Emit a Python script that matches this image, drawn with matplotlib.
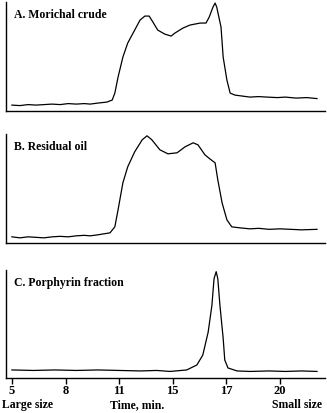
import matplotlib
matplotlib.use('Agg')
import matplotlib.pyplot as plt
import numpy as np

# x positions are in tick-slot units (tick labels are not evenly spaced in time)
tick_pos = [0, 1, 2, 3, 4, 5]
tick_labels = ['5', '8', '11', '15', '17', '20']

# A. Morichal crude
xa = [0.0, 0.15, 0.3, 0.45, 0.6, 0.75, 0.9, 1.05, 1.2, 1.35, 1.46, 1.6, 1.77,
      1.87, 1.92, 1.98, 2.07, 2.16, 2.29, 2.39, 2.48, 2.56, 2.63, 2.72, 2.85,
      2.97, 3.04, 3.19, 3.32, 3.51, 3.62, 3.68, 3.75, 3.79, 3.82, 3.9, 3.94,
      4.01, 4.07, 4.16, 4.3, 4.44, 4.6, 4.76, 4.95, 5.1, 5.3, 5.5, 5.69]
ya = [6, 5.5, 6.5, 6, 6.5, 7, 6.5, 7.5, 7, 7.5, 7, 8, 9, 11, 18, 34, 54, 68,
      81, 91, 95, 95, 89, 81, 77, 75, 78, 83, 86, 88, 88, 94, 104, 108, 104,
      84, 54, 31, 18, 16, 15, 14, 14.5, 14, 13.5, 14, 13, 13.5, 12.5]

# B. Residual oil
xb = [0.0, 0.15, 0.3, 0.45, 0.6, 0.75, 0.9, 1.05, 1.2, 1.35, 1.46, 1.6, 1.83,
      1.92, 1.98, 2.07, 2.16, 2.29, 2.43, 2.52, 2.61, 2.76, 2.91, 3.08, 3.23,
      3.38, 3.47, 3.6, 3.69, 3.79, 3.84, 3.92, 4.01, 4.1, 4.25, 4.44, 4.6,
      4.8, 5.0, 5.2, 5.4, 5.69]
yb = [6, 5, 6, 5.5, 5, 6, 6.5, 6, 7, 7.5, 7, 8, 10, 16, 33, 60, 76, 91, 103,
      107, 103, 93, 89, 90, 96, 100, 98, 88, 84, 80, 63, 40, 23, 16, 15, 14,
      14.5, 13.5, 14, 13.5, 13, 13.5]

# C. Porphyrin fraction
xc = [0.0, 0.4, 0.8, 1.2, 1.6, 2.0, 2.4, 2.7, 2.95, 3.26, 3.45, 3.56, 3.66,
      3.73, 3.77, 3.81, 3.84, 3.88, 3.94, 3.97, 4.03, 4.2, 4.44, 4.8, 5.1,
      5.4, 5.69]
yc = [8, 7.5, 8, 7.5, 8, 7.5, 7, 7.5, 6.5, 8, 13, 23, 46, 73, 100, 107, 100,
      73, 40, 18, 10, 7, 6.5, 7, 6.5, 7, 6.5]

panels = [
    (xa, ya, 'A. Morichal crude', [0.018, 0.731, 0.976, 0.264]),
    (xb, yb, 'B. Residual oil', [0.018, 0.412, 0.976, 0.264]),
    (xc, yc, 'C. Porphyrin fraction', [0.018, 0.085, 0.976, 0.262]),
]

serif = ['Liberation Serif', 'DejaVu Serif']

fig = plt.figure(figsize=(3.27, 4.13), dpi=100)
for i, (x, y, label, rect) in enumerate(panels):
    ax = fig.add_axes(rect)
    ax.plot(x, y, color='black', lw=0.9)
    ax.set_xlim(-0.112, 5.84)
    ax.set_ylim(0, 109)
    for s in ['top', 'right']:
        ax.spines[s].set_visible(False)
    ax.spines['left'].set_linewidth(1.0)
    ax.spines['bottom'].set_linewidth(1.0)
    ax.set_yticks([])
    ax.text(0.025, 0.88, label, transform=ax.transAxes, fontsize=8.5,
            fontweight='bold', family=serif, va='center', ha='left')
    if i == 2:
        ax.set_xticks(tick_pos)
        ax.set_xticklabels(tick_labels, fontsize=9, fontweight='bold',
                           family=serif)
        ax.tick_params(axis='x', length=4, width=1, pad=1)
    else:
        ax.set_xticks([])

fig.text(0.006, 0.019, 'Large size', fontsize=8.5, fontweight='bold',
         family=serif, ha='left', va='center')
fig.text(0.42, 0.019, 'Time, min.', fontsize=8.5, fontweight='bold',
         family=serif, ha='center', va='center')
fig.text(0.985, 0.019, 'Small size', fontsize=8.5, fontweight='bold',
         family=serif, ha='right', va='center')

fig.savefig('out.png', dpi=100)
